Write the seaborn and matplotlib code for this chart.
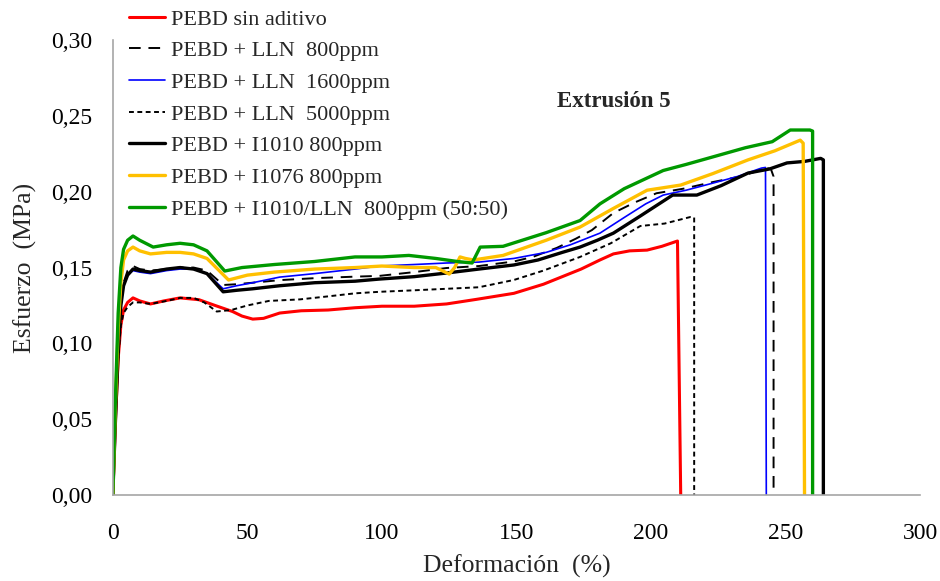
import matplotlib
matplotlib.use("Agg")
import matplotlib.pyplot as plt
import seaborn as sns
from matplotlib.ticker import FuncFormatter, MultipleLocator

SERIF = ["Liberation Serif", "DejaVu Serif"]

# strain (%) / stress (MPa), one pair per curve
red_x = [0, 1, 2, 3, 4, 5.5, 7.5, 10, 14, 19, 25, 32, 38, 44.5, 48, 52, 56, 62, 70, 80, 90,
         100, 112, 124, 135, 149, 160, 167, 174, 181, 186, 192, 198.5, 204, 209.8, 211]
red_y = [0, 0.05, 0.09, 0.112, 0.122, 0.127, 0.130, 0.128, 0.126, 0.128, 0.130, 0.1288, 0.125,
         0.121, 0.118, 0.116, 0.1165, 0.120, 0.1215, 0.122, 0.1235, 0.1245, 0.1245, 0.126, 0.129,
         0.133, 0.139, 0.144, 0.149, 0.155, 0.159, 0.161, 0.1615, 0.164, 0.1675, 0.0]

lln800_x = [0, 1, 2, 3, 4, 5.5, 7.5, 10, 14, 20, 25, 30, 35, 41, 46, 52, 62, 75, 90, 99, 112,
            124, 136, 149, 156, 165, 172, 178, 186, 194, 202, 212, 223, 233, 243, 244.5, 245.5, 245.5]
lln800_y = [0, 0.05, 0.095, 0.125, 0.140, 0.148, 0.151, 0.149, 0.148, 0.149, 0.150, 0.150, 0.148,
            0.1385, 0.139, 0.140, 0.1417, 0.143, 0.144, 0.1445, 0.147, 0.1497, 0.151, 0.154, 0.157,
            0.163, 0.169, 0.1747, 0.186, 0.193, 0.199, 0.202, 0.2064, 0.210, 0.2156, 0.215, 0.21, 0.0]

lln1600_x = [0, 1, 2, 3, 4, 5.5, 7.5, 10, 14, 20, 25, 30, 35, 41, 46, 52, 62, 75, 90, 99, 112,
             124, 136, 149, 161, 170, 181, 190, 198, 204.5, 213, 223, 232, 241, 242.5, 242.8]
lln1600_y = [0, 0.05, 0.095, 0.125, 0.138, 0.145, 0.148, 0.147, 0.146, 0.148, 0.149, 0.149, 0.146,
             0.136, 0.138, 0.140, 0.1437, 0.146, 0.149, 0.151, 0.152, 0.153, 0.1536, 0.156, 0.160,
             0.165, 0.1727, 0.183, 0.192, 0.1978, 0.201, 0.2057, 0.210, 0.2156, 0.216, 0.0]

lln5000_x = [0, 1, 2, 3, 4, 5.5, 7.5, 10, 14, 20, 25, 30, 34, 38.6, 44, 50, 58, 69.5, 80, 90, 99,
             112, 124, 136, 149, 160, 173.6, 185, 196, 205, 214.5, 216, 216]
lln5000_y = [0, 0.05, 0.09, 0.112, 0.12, 0.124, 0.127, 0.127, 0.126, 0.128, 0.130, 0.130, 0.127,
             0.121, 0.122, 0.125, 0.128, 0.129, 0.131, 0.133, 0.134, 0.135, 0.136, 0.137, 0.1418,
             0.148, 0.157, 0.166, 0.1774, 0.179, 0.1833, 0.183, 0.0]

i1010_x = [0, 1, 2, 3, 4, 5.5, 7.5, 10, 14, 20, 25, 30, 35, 41, 46, 52, 62, 75, 90, 99, 112, 124,
           136, 149, 158, 167, 173.6, 180, 186, 196, 208, 217, 226, 236, 244, 250.5, 257, 263, 264, 264]
i1010_y = [0, 0.05, 0.095, 0.125, 0.138, 0.145, 0.149, 0.148, 0.147, 0.149, 0.150, 0.149, 0.146,
           0.134, 0.135, 0.136, 0.138, 0.140, 0.141, 0.1424, 0.144, 0.1464, 0.149, 0.1517, 0.155,
           0.160, 0.1635, 0.168, 0.1727, 0.184, 0.1978, 0.1978, 0.204, 0.2123, 0.215, 0.219, 0.220,
           0.222, 0.221, 0.0]

i1076_x = [0, 1, 2, 3, 4, 5.5, 7.5, 10, 14, 20, 25, 30, 35, 43, 50, 60, 75, 90, 100, 112, 120, 125,
           127, 129, 131, 134, 145, 161, 173.6, 186, 198.5, 211, 223, 236, 246, 255.4, 256.5, 257]
i1076_y = [0, 0.06, 0.11, 0.14, 0.155, 0.161, 0.1635, 0.161, 0.159, 0.160, 0.160, 0.159, 0.156,
           0.1418, 0.145, 0.147, 0.149, 0.150, 0.151, 0.150, 0.150, 0.1457, 0.150, 0.157, 0.156,
           0.155, 0.158, 0.168, 0.1767, 0.189, 0.201, 0.2044, 0.212, 0.221, 0.227, 0.234, 0.232, 0.0]

mix_x = [0, 1, 2, 3, 4, 5.5, 7.5, 10, 15, 20, 25, 30, 35, 41.6, 48, 60, 75, 90, 100, 110, 120, 128,
         133.5, 136.5, 145, 161, 173.6, 181, 190, 204.5, 213, 223, 235, 245, 251.7, 259, 260, 260]
mix_y = [0, 0.065, 0.12, 0.15, 0.162, 0.168, 0.1708, 0.168, 0.1635, 0.165, 0.166, 0.165, 0.161,
         0.1477, 0.150, 0.152, 0.154, 0.157, 0.157, 0.158, 0.156, 0.154, 0.153, 0.1635, 0.164,
         0.173, 0.181, 0.192, 0.202, 0.214, 0.218, 0.223, 0.229, 0.233, 0.2407, 0.2407, 0.24, 0.0]

labels = [
    "PEBD sin aditivo",
    "PEBD + LLN  800ppm",
    "PEBD + LLN  1600ppm",
    "PEBD + LLN  5000ppm",
    "PEBD + I1010 800ppm",
    "PEBD + I1076 800ppm",
    "PEBD + I1010/LLN  800ppm (50:50)",
]

sns.set_style("white")
plt.rcParams["font.family"] = SERIF

fig, ax = plt.subplots(figsize=(9.4, 5.81), dpi=100)
fig.subplots_adjust(left=0.12, right=0.979, top=0.931, bottom=0.148)

series = [
    (red_x, red_y, dict(color="#ff0000", lw=2.2)),
    (lln800_x, lln800_y, dict(color="black", lw=1.4, dashes=(6, 4))),
    (lln1600_x, lln1600_y, dict(color="#0000ff", lw=1.2)),
    (lln5000_x, lln5000_y, dict(color="black", lw=1.4, dashes=(2.5, 1.8))),
    (i1010_x, i1010_y, dict(color="black", lw=2.4)),
    (i1076_x, i1076_y, dict(color="#ffc000", lw=2.4)),
    (mix_x, mix_y, dict(color="#009900", lw=2.4)),
]
for (xs, ys, style), lab in zip(series, labels):
    sns.lineplot(x=xs, y=ys, ax=ax, sort=False, estimator=None, label=lab, **style)

ax.set_xlim(0, 300)
ax.set_ylim(0, 0.30)
ax.xaxis.set_major_locator(MultipleLocator(50))
ax.yaxis.set_major_locator(MultipleLocator(0.05))
ax.yaxis.set_major_formatter(FuncFormatter(lambda v, p: f"{v:.2f}".replace(".", ",")))

for side in ["top", "right"]:
    ax.spines[side].set_visible(False)
for side in ["left", "bottom"]:
    ax.spines[side].set_color("#a6a6a6")
    ax.spines[side].set_linewidth(1.2)
ax.tick_params(axis="both", direction="out", length=6, width=1, color="#a6a6a6",
               labelsize=17, labelcolor="black")
ax.tick_params(axis="x", pad=14)
ax.tick_params(axis="y", pad=9)

ax.set_xlabel("Deformación  (%)", fontsize=18.5, labelpad=8)
ax.set_ylabel("Esfuerzo  (MPa)", fontsize=18.5, labelpad=10)

ax.text(0.55, 0.866, "Extrusión 5", transform=ax.transAxes, fontsize=16.5,
        fontweight="bold", ha="left", va="center")

handles, labs = ax.get_legend_handles_labels()
ax.legend(handles, labs, loc="upper left", bbox_to_anchor=(129 / 940, 1 - 9 / 581),
          bbox_transform=fig.transFigure, frameon=False, fontsize=16, borderpad=0,
          borderaxespad=0, labelspacing=0.5, handlelength=1.6, handletextpad=0.3)

fig.savefig("out.png", dpi=100)
